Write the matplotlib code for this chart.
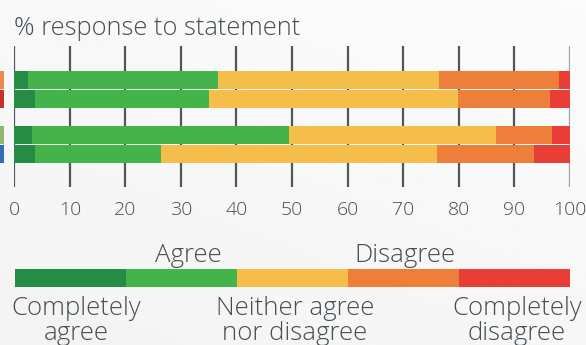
import matplotlib
matplotlib.use('Agg')
import matplotlib.pyplot as plt
import numpy as np

plt.rcParams['font.family'] = ['Open Sans', 'DejaVu Sans']
plt.rcParams['font.weight'] = 'light'

# data (% response per category)
categories = ['Completely agree', 'Agree', 'Neither agree nor disagree', 'Disagree', 'Completely disagree']
completely_agree = [2.4, 3.7, 3.1, 3.7]
agree = [34.2, 31.4, 46.3, 22.7]
neither = [39.9, 44.7, 37.4, 49.7]
disagree = [21.6, 16.6, 10.1, 17.5]
completely_disagree = [1.9, 3.6, 3.1, 6.4]
series_colors = ['#EE8A45', '#C9302C', '#8DB86E', '#2F6DB5']
ticks = list(range(0, 101, 10))

seg_colors = ['#258B45', '#43B34A', '#F5BD4A', '#ED7F3A', '#E83E35']
text_col = '#454e53'
W, H = 586, 345

fig = plt.figure(figsize=(W / 100, H / 100), dpi=100)

# soft grey background gradient
bg = fig.add_axes([0, 0, 1, 1])
gx, gy = np.meshgrid(np.linspace(0, 1, 200), np.linspace(0, 1, 120))
grad = 0.985 - 0.04 * (0.6 * gy + 0.4 * (1 - gx)) * 0.8
bg.imshow(grad, cmap='gray', vmin=0, vmax=1, aspect='auto', extent=[0, 1, 0, 1])
bg.axis('off')


def fx(px):
    return px / W


def fy(py):
    return 1 - py / H


ypos = [0, 1, 2.8, 3.75]
ax = fig.add_axes([fx(14.3), fy(187), fx(555.4), 141 / H])
ax.set_facecolor('none')
left = np.zeros(4)
for vals, c in zip([completely_agree, agree, neither, disagree, completely_disagree], seg_colors):
    ax.barh(ypos, vals, left=left, height=0.914, color=c, zorder=3)
    left += np.array(vals)
ax.set_xlim(0, 100)
ax.set_ylim(5.45, -1.71)
ax.set_xticks(ticks)
ax.set_xticklabels([str(t) for t in ticks], fontsize=14, color=text_col)
ax.tick_params(axis='x', length=0, pad=10)
ax.set_yticks([])
for t in ticks:
    ax.axvline(t, color='#9aa0a3' if t == 100 else '#4f575b', lw=1.6, zorder=1)
for s in ax.spines.values():
    s.set_visible(False)

# series markers at the left edge
mk = fig.add_axes([0, fy(187), fx(4), 141 / H])
mk.barh(ypos, [1] * 4, height=0.914, color=series_colors)
mk.set_xlim(0, 1)
mk.set_ylim(5.45, -1.71)
mk.axis('off')

fig.text(fx(14), fy(35), '% response to statement', fontsize=18.3, color=text_col, va='baseline', ha='left')

# colour key
lg = fig.add_axes([fx(15), fy(287), fx(555), 18 / H])
lg.barh([0] * 5, [1] * 5, left=range(5), height=1, color=seg_colors)
lg.set_xlim(0, 5)
lg.set_ylim(-0.5, 0.5)
lg.axis('off')

fs = 18.5
fig.text(fx(188), fy(262), 'Agree', fontsize=fs, color=text_col, ha='center', va='baseline')
fig.text(fx(405), fy(262), 'Disagree', fontsize=fs, color=text_col, ha='center', va='baseline')
fig.text(fx(76), fy(340), 'Completely\nagree', fontsize=fs, color=text_col, ha='center', va='baseline', linespacing=1.0)
fig.text(fx(295), fy(340), 'Neither agree\nnor disagree', fontsize=fs, color=text_col, ha='center', va='baseline', linespacing=1.0)
fig.text(fx(517), fy(340), 'Completely\ndisagree', fontsize=fs, color=text_col, ha='center', va='baseline', linespacing=1.0)

fig.savefig('out.png', dpi=100)
